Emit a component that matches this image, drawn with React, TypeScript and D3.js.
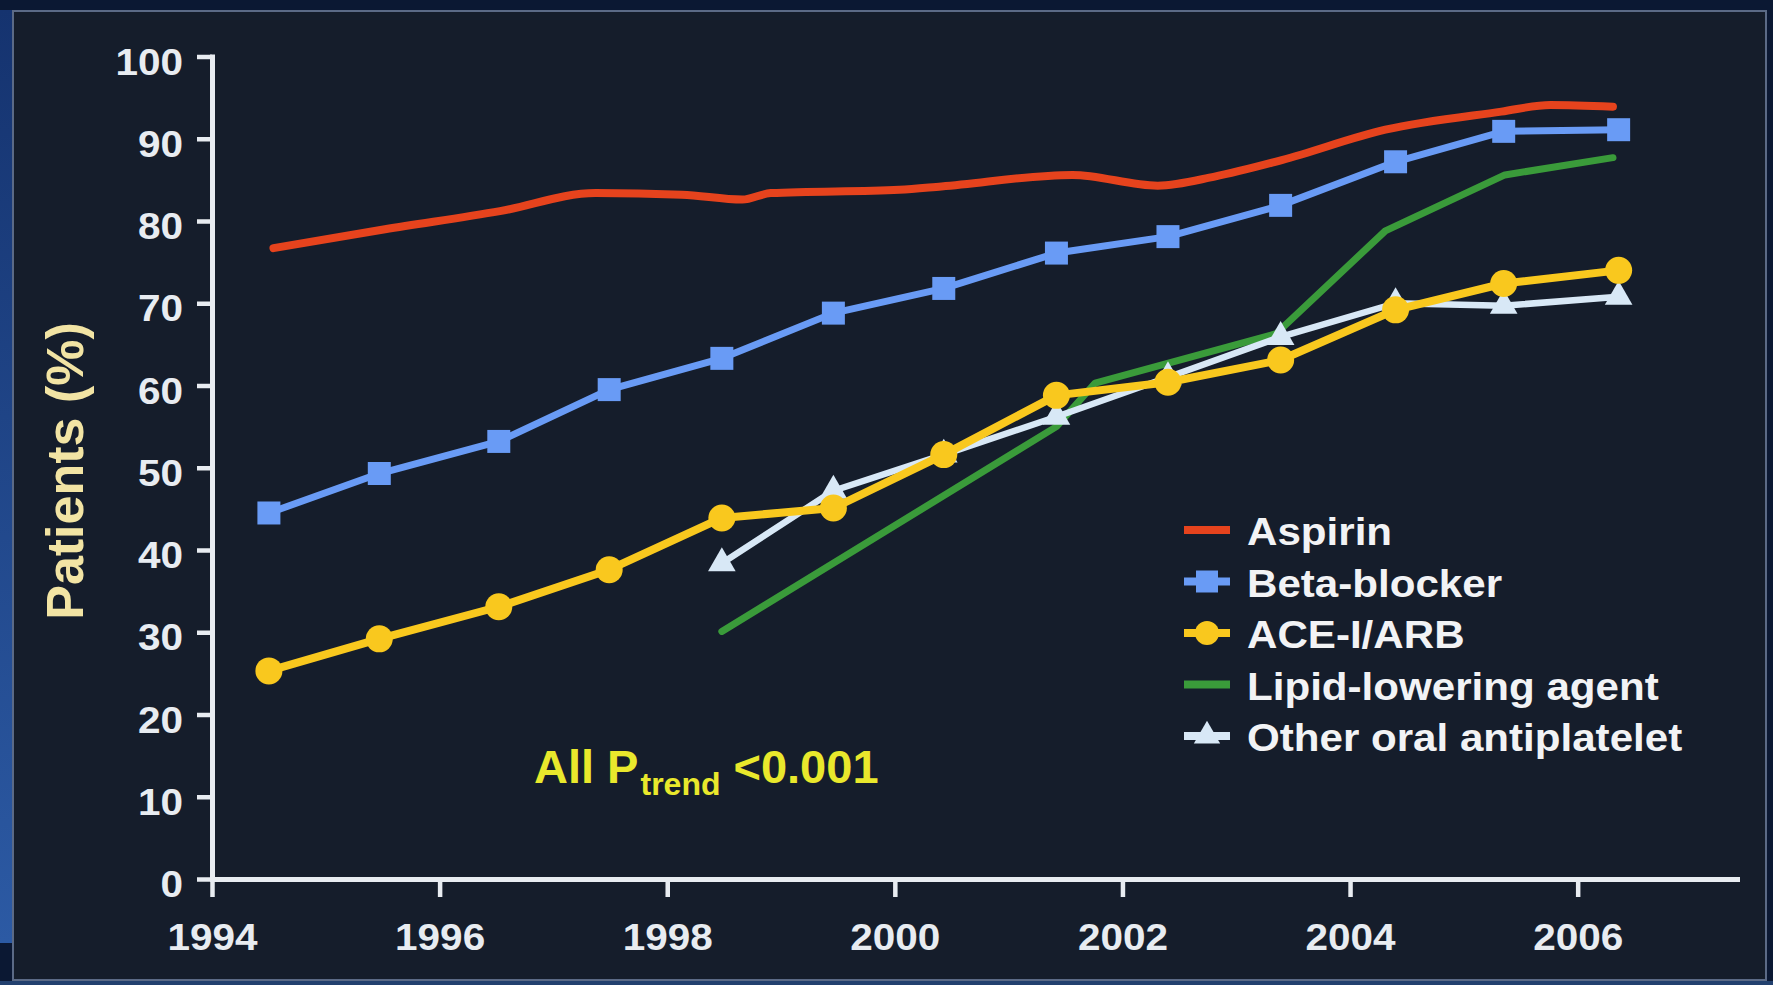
import React, { useEffect, useRef } from "react";
import * as d3 from "d3";

const W = 1773;
const H = 985;

// Survey periods (mid-period year positions) shared by the marked series
const years = [1994.5, 1995.47, 1996.52, 1997.49, 1998.48, 1999.46, 2000.43, 2001.42, 2002.4, 2003.39, 2004.4, 2005.35, 2006.36];
const betaBlocker = [44.5, 49.3, 53.2, 59.5, 63.3, 68.8, 71.8, 76.1, 78.1, 81.9, 87.2, 90.9, 91.1];
const aceArb = [25.3, 29.2, 33.1, 37.6, 43.9, 45.1, 51.6, 58.8, 60.4, 63.1, 69.2, 72.4, 74.0];

const otherYears = [1998.48, 1999.46, 2000.43, 2001.42, 2002.4, 2003.39, 2004.4, 2005.35, 2006.36];
const otherAntiplatelet = [38.4, 47.2, 51.6, 56.2, 61.0, 65.9, 70.0, 69.7, 70.8];

const aspirinYears = [1994.54, 1995.52, 1996.53, 1997.37, 1998.13, 1998.66, 1998.91, 2000.04, 2000.41, 2001.56, 2002.31, 2002.81, 2003.4, 2004.31, 2005.33, 2005.76, 2006.31];
const aspirin = [76.7, 79.0, 81.2, 83.4, 83.2, 82.6, 83.4, 83.8, 84.2, 85.6, 84.3, 85.4, 87.4, 91.1, 93.3, 94.1, 93.9];

const lipidYears = [1998.48, 2001.42, 2001.76, 2003.35, 2004.31, 2005.36, 2006.31];
const lipidLowering = [30.1, 55.0, 60.3, 66.3, 78.8, 85.6, 87.7];

const yTicks = [0, 10, 20, 30, 40, 50, 60, 70, 80, 90, 100];
const xTicks = [1994, 1996, 1998, 2000, 2002, 2004, 2006];

const legendLabels = ["Aspirin", "Beta-blocker", "ACE-I/ARB", "Lipid-lowering agent", "Other oral antiplatelet"];

const COLORS = {
  aspirin: "#e6431d",
  beta: "#699bf5",
  ace: "#f9c81e",
  lipid: "#3a9b3a",
  other: "#d8e8f6",
  axis: "#e8ecf1",
  ylabel: "#f2e4a4",
  note: "#e9e82c",
  panel: "#151d2b",
};

const FONT = "'Liberation Sans', Arial, Helvetica, sans-serif";
const STRETCH = 1.08;

export default function App() {
  const ref = useRef<SVGSVGElement>(null);

  useEffect(() => {
    const svg = d3.select(ref.current);
    svg.selectAll("*").remove();

    // frame and backdrop
    const defs = svg.append("defs");
    const edge = defs.append("linearGradient").attr("id", "edgeGrad").attr("x1", 0).attr("y1", 0).attr("x2", 0).attr("y2", 1);
    edge.append("stop").attr("offset", "0%").attr("stop-color", "#15336f");
    edge.append("stop").attr("offset", "100%").attr("stop-color", "#2c5aa4");

    svg.append("rect").attr("width", W).attr("height", H).attr("fill", "#0b1833");
    svg.append("rect").attr("x", 0).attr("y", 981).attr("width", W).attr("height", 4).attr("fill", "#22406e");
    svg.append("rect").attr("x", 0).attr("y", 10).attr("width", 13).attr("height", 933).attr("fill", "url(#edgeGrad)");
    svg.append("rect")
      .attr("x", 13).attr("y", 11).attr("width", 1753).attr("height", 969)
      .attr("fill", COLORS.panel).attr("stroke", "#5b6a86").attr("stroke-width", 2);

    const x = d3.scaleLinear().domain([1994, 2007.4]).range([212, 1737]);
    const y = d3.scaleLinear().domain([0, 100]).range([879, 56.5]);

    // axes
    const gx = svg.append("g")
      .attr("transform", `translate(0,${y(0)})`)
      .call(d3.axisBottom(x).tickValues(xTicks).tickFormat(d3.format("d")).tickSize(18).tickSizeOuter(0));
    const gy = svg.append("g")
      .attr("transform", `translate(${x(1994)},0)`)
      .call(d3.axisLeft(y).tickValues(yTicks).tickSize(15).tickSizeOuter(0));

    [gx, gy].forEach((g) => {
      g.select(".domain").attr("stroke", COLORS.axis).attr("stroke-width", 5).attr("stroke-linecap", "square");
      g.selectAll(".tick line").attr("stroke", COLORS.axis).attr("stroke-width", 4.5);
      g.selectAll(".tick text")
        .attr("fill", COLORS.axis)
        .attr("font-family", FONT)
        .attr("font-weight", "bold")
        .attr("font-size", 37.5);
    });
    gx.selectAll(".tick text").attr("y", 71).attr("dy", null).attr("transform", `scale(${STRETCH},1)`);
    gy.selectAll(".tick text").attr("x", -29 / STRETCH).attr("dy", "0.47em").attr("transform", `scale(${STRETCH},1)`);

    // y axis title
    svg.append("text")
      .attr("transform", `translate(83,471) rotate(-90)`)
      .attr("text-anchor", "middle")
      .attr("fill", COLORS.ylabel)
      .attr("font-family", FONT)
      .attr("font-weight", "bold")
      .attr("font-size", 52)
      .text("Patients (%)");

    const line = d3.line<[number, number]>().x((d) => x(d[0])).y((d) => y(d[1]));
    const smooth = d3.line<[number, number]>().x((d) => x(d[0])).y((d) => y(d[1])).curve(d3.curveMonotoneX);

    const zip = (xs: number[], vs: number[]) => xs.map((v, i) => [v, vs[i]] as [number, number]);

    const drawPath = (gen: any, data: [number, number][], color: string, width: number) =>
      svg.append("path")
        .attr("d", gen(data))
        .attr("fill", "none")
        .attr("stroke", color)
        .attr("stroke-width", width)
        .attr("stroke-linejoin", "round")
        .attr("stroke-linecap", "round");

    const squareSym = d3.symbol().type(d3.symbolSquare).size(23 * 23);
    const circleSym = d3.symbol().type(d3.symbolCircle).size(Math.PI * 13.5 * 13.5);
    const triSym = d3.symbol().type(d3.symbolTriangle).size(330);

    const drawMarkers = (data: [number, number][], sym: any, color: string) =>
      svg.append("g").selectAll("path").data(data).join("path")
        .attr("d", sym())
        .attr("transform", (d) => `translate(${x(d[0])},${y(d[1])})`)
        .attr("fill", color);

    // Aspirin
    drawPath(smooth, zip(aspirinYears, aspirin), COLORS.aspirin, 8);

    // Beta-blocker
    const betaData = zip(years, betaBlocker);
    drawPath(line, betaData, COLORS.beta, 7);
    drawMarkers(betaData, squareSym, COLORS.beta);

    // Lipid-lowering agent
    drawPath(line, zip(lipidYears, lipidLowering), COLORS.lipid, 7);

    // Other oral antiplatelet
    const otherData = zip(otherYears, otherAntiplatelet);
    drawPath(line, otherData, COLORS.other, 6.5);
    drawMarkers(otherData, triSym, COLORS.other);

    // ACE-I/ARB
    const aceData = zip(years, aceArb);
    drawPath(line, aceData, COLORS.ace, 8);
    drawMarkers(aceData, circleSym, COLORS.ace);

    // legend
    const legendSyms = [null, squareSym, circleSym, null, triSym];
    const legendColors = [COLORS.aspirin, COLORS.beta, COLORS.ace, COLORS.lipid, COLORS.other];
    const legend = svg.append("g");
    legendLabels.forEach((label, i) => {
      const base = 545 + i * 51.5;
      const cy = base - 15;
      legend.append("line")
        .attr("x1", 1184).attr("x2", 1230).attr("y1", cy).attr("y2", cy)
        .attr("stroke", legendColors[i]).attr("stroke-width", 8);
      const s = legendSyms[i];
      if (s) {
        legend.append("path")
          .attr("d", (s as any).size(i === 2 ? Math.PI * 12 * 12 : i === 1 ? 22 * 22 : 300)())
          .attr("transform", `translate(1207,${cy})`)
          .attr("fill", legendColors[i]);
      }
      legend.append("text")
        .attr("transform", `translate(1247,${base}) scale(${STRETCH},1)`)
        .attr("fill", "#f2f3f5")
        .attr("font-family", FONT)
        .attr("font-weight", "bold")
        .attr("font-size", 39)
        .text(label);
    });

    // trend annotation
    const note = svg.append("text")
      .attr("x", 534).attr("y", 783)
      .attr("fill", COLORS.note)
      .attr("font-family", FONT)
      .attr("font-weight", "bold")
      .attr("font-size", 47);
    note.append("tspan").text("All P");
    note.append("tspan").attr("dx", 2).attr("dy", 12).attr("font-size", 32).text("trend");
    note.append("tspan").attr("dx", 13).attr("dy", -12).text("<0.001");
  }, []);

  return (
    <svg
      ref={ref}
      width={W}
      height={H}
      style={{ position: "absolute", left: 0, top: 0, display: "block" }}
    />
  );
}
